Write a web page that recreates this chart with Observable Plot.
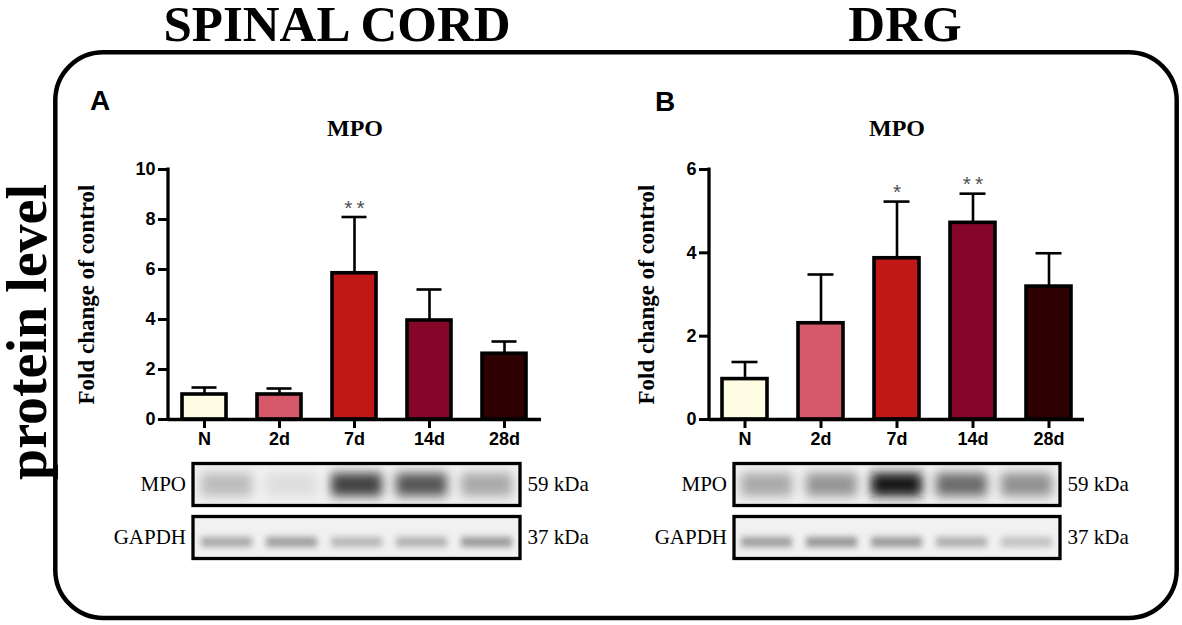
<!DOCTYPE html>
<html>
<head>
<meta charset="utf-8">
<script src="https://cdn.jsdelivr.net/npm/d3@7"></script>
<script src="https://cdn.jsdelivr.net/npm/@observablehq/plot@0.6"></script>
<style>
  html, body { margin: 0; padding: 0; background: #fff; }
  #fig { position: relative; width: 1182px; height: 625px; overflow: hidden; background: #fff; }
  #fig > .layer { position: absolute; }
</style>
</head>
<body>
<div id="fig"></div>
<script>
// ---------------- data ----------------
const groups = ["N", "2d", "7d", "14d", "28d"];
const groupColors = ["#fefde3", "#d5596a", "#c01817", "#860629", "#2d0002"];

// Spinal cord (panel A) – fold change of control, mean and error (SEM)
const scMean = [1.0, 1.0, 5.85, 3.96, 2.63];
const scErr  = [0.28, 0.24, 2.25, 1.24, 0.49];
const scStars = ["", "", "**", "", ""];
const scTicks = [0, 2, 4, 6, 8, 10];

// DRG (panel B)
const drgMean = [0.97, 2.31, 3.87, 4.72, 3.19];
const drgErr  = [0.41, 1.17, 1.36, 0.70, 0.80];
const drgStars = ["", "", "*", "**", ""];
const drgTicks = [0, 2, 4, 6];

// Western blot band intensities (0 = none, 1 = darkest)
const proteins = ["MPO", "GAPDH"];
const kdaLabels = ["59 kDa", "37 kDa"];
const scMpoBand   = [0.22, 0.08, 0.72, 0.64, 0.30];
const scGapdhBand = [0.30, 0.34, 0.24, 0.27, 0.36];
const drgMpoBand   = [0.30, 0.38, 0.90, 0.55, 0.40];
const drgGapdhBand = [0.34, 0.38, 0.36, 0.28, 0.20];

const yLabel = "Fold change of control";
const panelTitle = "MPO";

// ---------------- helpers ----------------
const SERIF = "Liberation Serif";
const SANS = "Liberation Sans";
const fig = document.getElementById("fig");

function place(node, left, top) {
  node.classList.add("layer");
  node.style.left = left + "px";
  node.style.top = top + "px";
  fig.appendChild(node);
}

function barPanel(means, errs, stars, ticks, labelDx, marginLeft, marginRight) {
  const data = groups.map((g, i) => ({group: g, mean: means[i], hi: means[i] + errs[i], star: stars[i]}));
  const yAxisLine = (index, scales, values, dim) =>
    d3.create("svg:line")
      .attr("x1", dim.marginLeft).attr("x2", dim.marginLeft)
      .attr("y1", dim.marginTop - 1.5).attr("y2", dim.height - dim.marginBottom + 1.5)
      .attr("stroke", "black").attr("stroke-width", 3.3).node();
  return Plot.plot({
    width: 500, height: 350,
    marginLeft, marginRight, marginTop: 59, marginBottom: 41,
    style: {background: "none", overflow: "visible", color: "black"},
    x: {domain: groups, paddingInner: 0.41, paddingOuter: 0.17, label: null},
    y: {domain: [0, d3.max(ticks)], label: null},
    color: {domain: groups, range: groupColors},
    marks: [
      Plot.ruleX(data, {x: "group", y1: "mean", y2: "hi", stroke: "black", strokeWidth: 2.6}),
      Plot.tickY(data, {x: "group", y: "hi", stroke: "black", strokeWidth: 2.6, insetLeft: 9.5, insetRight: 9.5}),
      Plot.barY(data, {x: "group", y: "mean", fill: "group", stroke: "black", strokeWidth: 3.6}),
      Plot.ruleY([0], {stroke: "black", strokeWidth: 3.3}),
      yAxisLine,
      Plot.axisY({ticks, tickFormat: d3.format("d"), tickSize: 10, tickPadding: 3, strokeWidth: 3, stroke: "black", fill: "black",
        fontSize: 18, fontWeight: "bold", fontFamily: SANS, label: null}),
      Plot.axisX({tickSize: 9, tickPadding: 4, strokeWidth: 3, stroke: "black", fill: "black",
        fontSize: 18, fontWeight: "bold", fontFamily: SANS, label: null}),
      Plot.text(data, {x: "group", y: "hi", text: d => d.star.split("").join("\u2009"),
        dy: -9, fill: "#505050", fontSize: 21, fontFamily: SANS, lineAnchor: "middle"}),
      Plot.text([yLabel], {frameAnchor: "left", rotate: -90, dx: labelDx, textAnchor: "middle", lineAnchor: "middle",
        fontFamily: SERIF, fontWeight: "bold", fontSize: 23, fill: "black"}),
      Plot.text([panelTitle], {frameAnchor: "top", dy: -41, textAnchor: "middle", lineAnchor: "middle",
        fontFamily: SERIF, fontWeight: "bold", fontSize: 24, fill: "black"})
    ]
  });
}

function blotPanel(mpo, gapdh, marginLeft, marginRight, id) {
  const bg = "#f1f1f1";
  const shade = d3.interpolateRgb(bg, "#000000");
  const mpoBands = groups.map((g, i) => ({protein: "MPO", group: g, v: mpo[i]}));
  const gapdhBands = groups.map((g, i) => ({protein: "GAPDH", group: g, v: gapdh[i]}));
  const rows = proteins.map((p, i) => ({protein: p, kda: kdaLabels[i]}));
  const svg = Plot.plot({
    width: 520, height: 120,
    marginLeft, marginRight, marginTop: 12.7, marginBottom: 10.7,
    style: {background: "none", overflow: "visible", color: "black"},
    x: {domain: groups, padding: 0, axis: null},
    fy: {domain: proteins, paddingInner: 0.2, paddingOuter: 0, axis: null},
    marks: [
      Plot.frame({fill: bg, stroke: "none"}),
      Plot.cell(mpoBands, {fy: "protein", x: "group", fill: d => shade(d.v),
        insetLeft: 7, insetRight: 7, insetTop: 10, insetBottom: 9, clip: true}),
      Plot.cell(gapdhBands, {fy: "protein", x: "group", fill: d => shade(d.v),
        insetLeft: 7, insetRight: 7, insetTop: 21, insetBottom: 11, clip: true}),
      Plot.frame({stroke: "black", strokeWidth: 3.3}),
      Plot.text(rows, {fy: "protein", text: "protein", frameAnchor: "left", dx: -7, textAnchor: "end",
        lineAnchor: "middle", fontFamily: SERIF, fontSize: 21, fill: "black"}),
      Plot.text(rows, {fy: "protein", text: "kda", frameAnchor: "right", dx: 7.5, textAnchor: "start",
        lineAnchor: "middle", fontFamily: SERIF, fontSize: 21, fill: "black"})
    ]
  });
  const s = d3.select(svg);
  const defs = s.insert("defs", ":first-child");
  [["m", 5.5], ["g", 3.2]].forEach(([k, sd]) => {
    defs.append("filter").attr("id", id + k)
      .attr("x", "-30%").attr("y", "-300%").attr("width", "160%").attr("height", "700%")
      .append("feGaussianBlur").attr("stdDeviation", sd);
  });
  const cells = s.selectAll('g[aria-label="cell"]').nodes();
  if (cells[0]) cells[0].setAttribute("filter", `url(#${id}m)`);
  if (cells[1]) cells[1].setAttribute("filter", `url(#${id}g)`);
  return svg;
}

// ---------------- decorations ----------------
const deco = d3.create("svg").attr("width", 1182).attr("height", 625);
deco.append("rect").attr("x", 55.3).attr("y", 52.3).attr("width", 1121.4).attr("height", 565.7)
  .attr("rx", 48).attr("ry", 48).attr("fill", "none").attr("stroke", "black").attr("stroke-width", 4.5);
deco.append("text").attr("x", 337).attr("y", 41).attr("text-anchor", "middle")
  .attr("font-family", SERIF).attr("font-weight", "bold").attr("font-size", 51).text("SPINAL CORD");
deco.append("text").attr("x", 905).attr("y", 41).attr("text-anchor", "middle")
  .attr("font-family", SERIF).attr("font-weight", "bold").attr("font-size", 51).text("DRG");
deco.append("text").attr("transform", "translate(46,332) rotate(-90)").attr("text-anchor", "middle")
  .attr("font-family", SERIF).attr("font-weight", "bold").attr("font-size", 56).text("protein level");
deco.append("text").attr("x", 90).attr("y", 110)
  .attr("font-family", SANS).attr("font-weight", "bold").attr("font-size", 28).text("A");
deco.append("text").attr("x", 655).attr("y", 111)
  .attr("font-family", SANS).attr("font-weight", "bold").attr("font-size", 28).text("B");
place(deco.node(), 0, 0);

// ---------------- charts ----------------
place(barPanel(scMean, scErr, scStars, scTicks, -82, 108, 19), 60, 110);
place(barPanel(drgMean, drgErr, drgStars, drgTicks, -63, 109, 16), 600, 110);
place(blotPanel(scMpoBand, scGapdhBand, 92.5, 100.5, "blA"), 100, 450);
place(blotPanel(drgMpoBand, drgGapdhBand, 93.5, 100.5, "blB"), 640, 450);
</script>
</body>
</html>
